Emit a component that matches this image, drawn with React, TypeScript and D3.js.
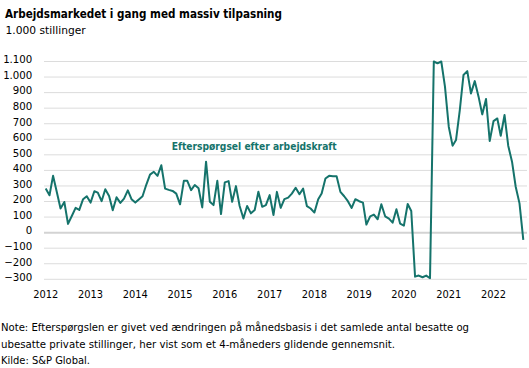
import React from "react";
import * as d3 from "d3";

// monthly values, 1.000 stillinger (4-month moving average), Jan 2012 - Sep 2022
const v2012 = [283, 240, 365, 260, 155, 197, 56, 107, 159, 146, 215, 234];
const v2013 = [193, 266, 257, 202, 279, 236, 144, 227, 191, 219, 272, 215];
const v2014 = [193, 215, 234, 309, 373, 391, 365, 433, 283, 275, 268, 251];
const v2015 = [182, 333, 333, 273, 306, 285, 162, 456, 198, 177, 333, 119];
const v2016 = [323, 331, 198, 299, 171, 91, 171, 124, 145, 263, 166, 177];
const v2017 = [241, 113, 262, 159, 215, 225, 251, 288, 247, 283, 170, 155];
const v2018 = [129, 215, 251, 348, 365, 363, 363, 262, 234, 202, 159, 215];
const v2019 = [202, 193, 52, 105, 116, 86, 182, 105, 90, 64, 150, 58];
const v2020 = [45, 184, 139, -283, -276, -287, -276, -293, 1100, 1088, 1100, 938];
const v2021 = [681, 559, 595, 788, 1013, 1038, 895, 974, 874, 760, 859, 589];
const v2022 = [717, 734, 623, 756, 559, 456, 295, 188, -47];

const values = [
  ...v2012, ...v2013, ...v2014, ...v2015, ...v2016, ...v2017,
  ...v2018, ...v2019, ...v2020, ...v2021, ...v2022,
];

const yTicks = [1100, 1000, 900, 800, 700, 600, 500, 400, 300, 200, 100, 0, -100, -200, -300];
const yearTicks = [2012, 2013, 2014, 2015, 2016, 2017, 2018, 2019, 2020, 2021, 2022];

const TITLE = "Arbejdsmarkedet i gang med massiv tilpasning";
const SUBTITLE = "1.000 stillinger";
const SERIES_LABEL = "Efterspørgsel efter arbejdskraft";
const NOTE1 = "Note: Efterspørgslen er givet ved ændringen på månedsbasis i det samlede antal besatte og";
const NOTE2 = "ubesatte private stillinger, her vist som et 4-måneders glidende gennemsnit.";
const SOURCE = "Kilde:  S&P Global.";

const W = 529;
const H = 368;
const TEAL = "#15736b";
const FONT = "'DejaVu Sans', Verdana, sans-serif";

const fmt = (v: number) => {
  const s = d3.format(",")(Math.abs(v)).replace(/,/g, ".");
  return v < 0 ? "\u2212" + s : s;
};

export default function App() {
  const data = values.map((v, i) => ({ date: new Date(2012, i, 1), value: v }));

  const x = d3
    .scaleTime()
    .domain([new Date(2012, 0, 1), new Date(2022, 8, 1)])
    .range([45.7, 523.3]);

  const y = d3.scaleLinear().domain([-300, 1100]).range([279.3, 61.5]);

  const line = d3
    .line<{ date: Date; value: number }>()
    .x((d) => x(d.date))
    .y((d) => y(d.value));

  return (
    <svg
      width={W}
      height={H}
      style={{ position: "absolute", left: 0, top: 0, background: "#fff" }}
      fontFamily={FONT}
    >
      <text x={5} y={18.3} fontSize={12} fontWeight="bold" textLength={277} lengthAdjust="spacingAndGlyphs">
        {TITLE}
      </text>
      <text x={5.5} y={34.3} fontSize={10.7}>
        {SUBTITLE}
      </text>

      {/* grid + y labels */}
      {yTicks.map((t) => (
        <g key={t}>
          <line
            x1={44}
            x2={527}
            y1={y(t)}
            y2={y(t)}
            stroke={t === 0 ? "#d3d3d3" : "#dcdcdc"}
            strokeWidth={t === 0 ? 2 : 1}
          />
          <text x={32.3} y={y(t) + 1.8} fontSize={10.2} textAnchor="end">
            {fmt(t)}
          </text>
        </g>
      ))}

      {yearTicks.map((yr) => (
        <text key={yr} x={x(new Date(yr, 0, 1))} y={298.3} fontSize={9.9} textAnchor="middle">
          {yr}
        </text>
      ))}

      <path d={line(data)!} fill="none" stroke={TEAL} strokeWidth={2} strokeLinejoin="round" />

      <text
        x={171.7}
        y={150}
        fontSize={11}
        fontWeight="bold"
        fill={TEAL}
        textLength={165}
        lengthAdjust="spacingAndGlyphs"
      >
        {SERIES_LABEL}
      </text>

      <text x={1} y={331} fontSize={10.5} textLength={468} lengthAdjust="spacingAndGlyphs">
        {NOTE1}
      </text>
      <text x={1} y={347.5} fontSize={10.5} textLength={394} lengthAdjust="spacingAndGlyphs">
        {NOTE2}
      </text>
      <text x={1} y={364} fontSize={10.5} textLength={89} lengthAdjust="spacingAndGlyphs">
        {SOURCE}
      </text>
    </svg>
  );
}
